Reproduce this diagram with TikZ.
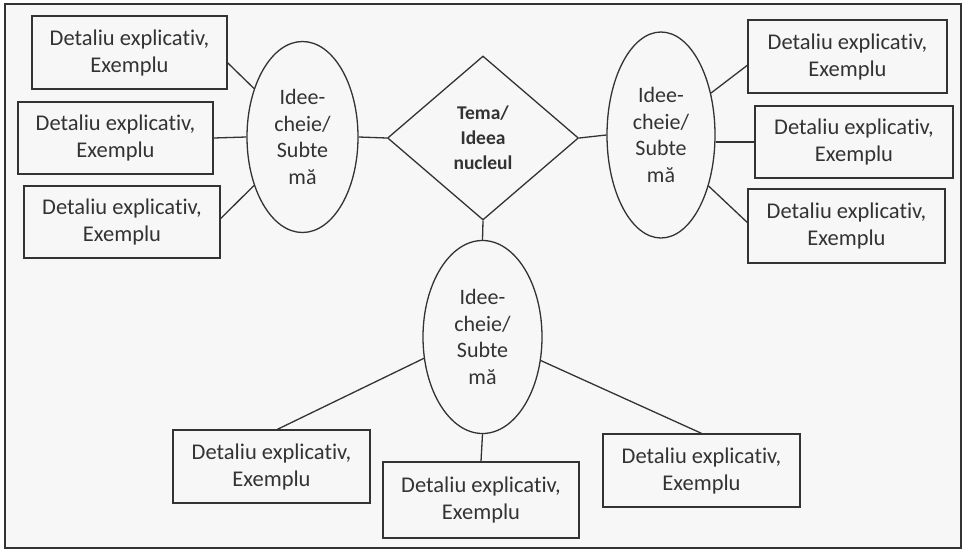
\documentclass[tikz,border=0pt]{standalone}
\usepackage{fontspec}
\setmainfont{Carlito}[Ligatures={NoCommon}]
\usetikzlibrary{shapes.geometric}
\definecolor{ink}{HTML}{333333}
\definecolor{paper}{HTML}{F7F7F7}
\tikzset{
  frame/.style={draw=ink, line width=1.3pt, fill=paper},
  detail/.style={draw=ink, line width=1.3pt, rectangle, inner sep=0pt, align=center,
     text=ink, font=\fontsize{22.5}{27}\selectfont, minimum width=197pt, minimum height=73pt},
  subtopic/.style={draw=ink, line width=1.3pt, ellipse, inner sep=0pt, align=center,
     text=ink, font=\fontsize{22}{26.5}\selectfont},
  core/.style={draw=ink, line width=1.3pt, diamond, inner sep=0pt, align=center,
     text=ink, font=\fontsize{19.5}{25}\selectfont\bfseries, minimum width=191pt, minimum height=164pt},
  link/.style={draw=ink, line width=1.3pt}
}
\begin{document}
\begin{tikzpicture}[x=1pt,y=-1pt]
\useasboundingbox (0,0) rectangle (965,552);
\draw[frame] (5,4) rectangle (961,548);

% central diamond
\node[core] (D) at (483,138) {Tema/\\Ideea\\nucleul};

% ellipses
\node[subtopic, minimum width=111pt, minimum height=191pt] (LE) at (302.5,137) {Idee-\\cheie/\\Subte\\mă};
\node[subtopic, minimum width=108pt, minimum height=206pt] (RE) at (661,135) {Idee-\\cheie/\\Subte\\mă};
\node[subtopic, minimum width=119pt, minimum height=193pt] (BE) at (482.5,337) {Idee-\\cheie/\\Subte\\mă};

% left boxes
\node[detail, minimum width=195pt] (L1) at (129.5,52.5) {Detaliu explicativ,\\Exemplu};
\node[detail, minimum width=195pt, minimum height=72pt] (L2) at (115.5,138) {Detaliu explicativ,\\Exemplu};
\node[detail, minimum width=196pt, minimum height=72pt] (L3) at (122,222) {Detaliu explicativ,\\Exemplu};

% right boxes
\node[detail, minimum width=199pt] (R1) at (847.5,56.5) {Detaliu explicativ,\\Exemplu};
\node[detail, minimum width=198pt, minimum height=72pt] (R2) at (854,142) {Detaliu explicativ,\\Exemplu};
\node[detail, minimum height=74pt] (R3) at (846.5,226) {Detaliu explicativ,\\Exemplu};

% bottom boxes
\node[detail] (B1) at (271.5,466.5) {Detaliu explicativ,\\Exemplu};
\node[detail, minimum width=196pt, minimum height=76pt] (B2) at (481,500) {Detaliu explicativ,\\Exemplu};
\node[detail] (B3) at (701.5,470.5) {Detaliu explicativ,\\Exemplu};

% connectors
\draw[link] (LE.east) -- (D.west);
\draw[link] (D.east) -- (RE.west);
\draw[link] (D.south) -- (BE.north);

\draw[link] (L1.-6) -- (LE.135);
\draw[link] (L2.east) -- (LE.west);
\draw[link] (L3.2) -- (LE.225);

\draw[link] (R1.185) -- (RE.40);
\draw[link] (R2.west) -- (R2.west -| RE.east);
\draw[link] (R3.178) -- (RE.-47);

\draw[link] (B1.81) -- (BE.200);
\draw[link] (B2.north) -- (BE.south);
\draw[link] (B3.north) -- (BE.-22);
\end{tikzpicture}
\end{document}
